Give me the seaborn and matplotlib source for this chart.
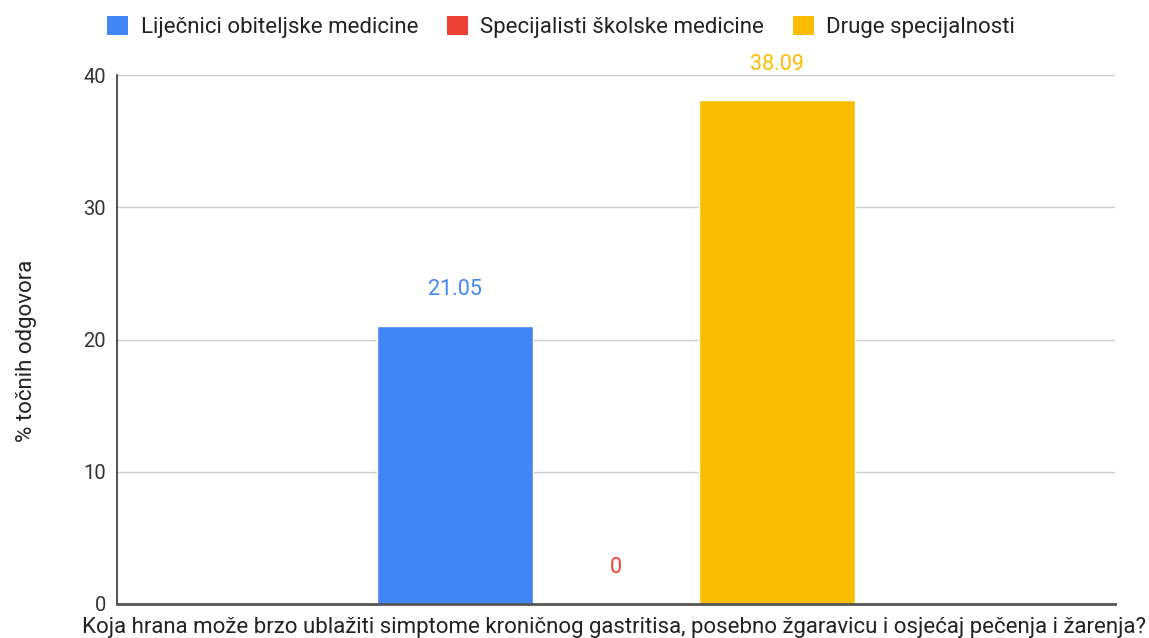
import matplotlib
matplotlib.use("Agg")
import matplotlib.pyplot as plt
import seaborn as sns
import pandas as pd
from matplotlib.patches import Patch

categories = ["Koja hrana može brzo ublažiti simptome kroničnog gastritisa, posebno žgaravicu i osjećaj pečenja i žarenja?"]
series = ["Liječnici obiteljske medicine", "Specijalisti školske medicine", "Druge specijalnosti"]
values = [21.05, 0, 38.09]
value_labels = ["21.05", "0", "38.09"]
colors = ["#4285F4", "#EA4335", "#FBBC04"]
yticks = [0, 10, 20, 30, 40]
ylabel = "% točnih odgovora"

sns.set_theme(style="white")
plt.rcParams['font.family'] = ['Roboto', 'DejaVu Sans']

df = pd.DataFrame({"q": categories * len(series), "grupa": series, "v": values})

fig = plt.figure(figsize=(11.49, 6.38), dpi=100)
ax = fig.add_axes([0.1018, 0.0533, 0.8686, 0.8291])
sns.barplot(data=df, x="q", y="v", hue="grupa", hue_order=series, palette=colors,
            width=0.484, gap=0.03, saturation=1, ax=ax, legend=False, errorbar=None)

ax.set_xlim(-0.5, 0.5)
ax.set_ylim(0, 40)
ax.set_yticks(yticks)
ax.set_yticklabels([str(t) for t in yticks], fontsize=14.5, color="#333333")
ax.tick_params(axis="y", length=0, pad=8)
ax.tick_params(axis="x", length=0, pad=0)
ax.set_xticks([])
ax.set_xlabel(categories[0], fontsize=16, color="#222222")
ax.xaxis.set_label_coords(0.498, -0.025)
ax.set_ylabel(ylabel, fontsize=16, color="#222222")
ax.yaxis.set_label_coords(-0.080, 0.478)
ax.yaxis.grid(True, color="#CCCCCC", linewidth=1)
ax.set_axisbelow(True)
for s in ["top", "right"]:
    ax.spines[s].set_visible(False)
ax.spines["left"].set_color("#333333")
ax.spines["left"].set_linewidth(1.2)
ax.spines["bottom"].set_color("#555555")
ax.spines["bottom"].set_linewidth(2)

for patch, lab, c in zip(ax.patches, value_labels, colors):
    x = patch.get_x() + patch.get_width() / 2
    h = patch.get_height()
    ax.annotate(lab, (x, h), xytext=(0, 26), textcoords="offset points",
                ha="center", va="center", fontsize=15.5, color=c)

handles = [Patch(facecolor=c, edgecolor="none") for c in colors]
fig.legend(handles, series, loc="center left", bbox_to_anchor=(0.076, 0.958),
           ncol=3, frameon=False, fontsize=16, handlelength=0.95, handleheight=0.95,
           handletextpad=0.55, columnspacing=1.3, labelcolor="#222222")

fig.savefig("out.png", dpi=100)
